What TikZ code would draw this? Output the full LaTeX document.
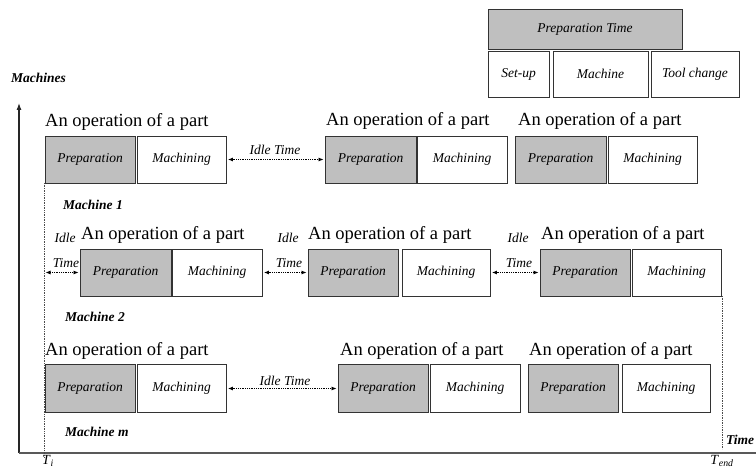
\documentclass[tikz,border=0pt]{standalone}
\usepackage{fontspec}
\setmainfont{Liberation Serif}
\usetikzlibrary{arrows.meta}
\begin{document}
\begin{tikzpicture}[x=1pt,y=-1pt,
  box/.style={draw=black!80, line width=0.9pt, minimum width=90pt, minimum height=47pt, inner sep=0pt, font=\fontsize{13.5}{15}\selectfont\itshape},
  prepbox/.style={box, fill=black!25},
  machbox/.style={box, fill=white},
  oplabel/.style={anchor=west, inner sep=0pt, font=\fontsize{18.5}{20}\selectfont},
  idlelabel/.style={inner sep=0pt, font=\fontsize{13.5}{15}\selectfont\itshape},
  mlabel/.style={anchor=west, inner sep=0pt, font=\fontsize{13.5}{15}\selectfont\bfseries\itshape},
  idle/.style={densely dotted, line width=0.8pt, {Latex[length=5pt,width=4pt]}-{Latex[length=5pt,width=4pt]}, shorten <=1.5pt, shorten >=1pt},
  guide/.style={densely dotted, line width=0.7pt, black!70},
  axis/.style={line width=1.1pt, black!85},
]
\useasboundingbox (0,0) rectangle (756,470);

% legend
\node[prepbox, minimum width=194pt, minimum height=40pt] (lpt) at (585,29) {Preparation Time};
\node[machbox, minimum width=61pt, minimum height=46pt] (lsu) at (518.5,74) {Set-up};
\node[machbox, minimum width=95pt, minimum height=46pt] (lma) at (600.5,74) {Machine};
\node[machbox, minimum width=88pt, minimum height=46pt] (ltc) at (695,74) {Tool change};

% axes
\coordinate (origin) at (19,453);
\coordinate (ytop) at (19,103);
\coordinate (xend) at (760,453);
\draw[axis, -{Latex[length=7pt,width=5pt]}] (origin) -- (ytop);
\draw[line width=1.8pt, black!65] (origin) -- (xend);
\node[mlabel] (ylab) at (11,78) {Machines};
\node[mlabel] (xlab) at (726,440) {Time};
\node[inner sep=0pt, font=\fontsize{14}{15}\selectfont] (ti) at (48,461) {\textit{T}\textsubscript{\textit{i}}};
\node[inner sep=0pt, font=\fontsize{14}{15}\selectfont] (tend) at (722,461) {\textit{T}\textsubscript{\textit{end}}};

% guides
\coordinate (g1t) at (44,183);
\coordinate (g1b) at (44,458);
\coordinate (g2) at (44,272.5);
\coordinate (g3t) at (722,296);
\coordinate (g3b) at (722,449);
\draw[guide] (g1t) -- (g1b);
\draw[guide] (g3t) -- (g3b);

% Machine 1
\node[prepbox] (p11) at (90,159.5) {Preparation};
\node[machbox, minimum width=89pt] (m11) at (181.5,159.5) {Machining};
\node[prepbox, minimum width=91pt] (p12) at (370.5,159.5) {Preparation};
\node[machbox] (m12) at (462,159.5) {Machining};
\node[prepbox, minimum width=91pt] (p13) at (560.5,159.5) {Preparation};
\node[machbox, minimum width=89pt] (m13) at (652.5,159.5) {Machining};
\node[oplabel] (o11) at (45,122) {An operation of a part};
\node[oplabel] (o12) at (326,121) {An operation of a part};
\node[oplabel] (o13) at (518,121) {An operation of a part};
\draw[idle] (m11) -- (p12);
\node[idlelabel] (i11) at (275,150) {Idle Time};
\node[mlabel] (ml1) at (63,205) {Machine 1};

% Machine 2
\node[prepbox, minimum width=91pt] (p21) at (125.5,272.5) {Preparation};
\node[machbox] (m21) at (217,272.5) {Machining};
\node[prepbox] (p22) at (353,272.5) {Preparation};
\node[machbox, minimum width=88pt] (m22) at (446,272.5) {Machining};
\node[prepbox] (p23) at (585,272.5) {Preparation};
\node[machbox, minimum width=89pt] (m23) at (676.5,272.5) {Machining};
\node[oplabel] (o21) at (81,235) {An operation of a part};
\node[oplabel] (o22) at (308,235) {An operation of a part};
\node[oplabel] (o23) at (541,235) {An operation of a part};
\draw[idle] (g2) -- (p21);
\draw[idle] (m21) -- (p22);
\draw[idle] (m22) -- (p23);
\node[idlelabel] (i21a) at (65,238) {Idle};
\node[idlelabel] (i21b) at (66,263) {Time};
\node[idlelabel] (i22a) at (288,238) {Idle};
\node[idlelabel] (i22b) at (289,263) {Time};
\node[idlelabel] (i23a) at (518,238) {Idle};
\node[idlelabel] (i23b) at (519,263) {Time};
\node[mlabel] (ml2) at (65,317) {Machine 2};

% Machine m
\node[prepbox, minimum height=48pt] (p31) at (90,388.5) {Preparation};
\node[machbox, minimum width=89pt, minimum height=48pt] (m31) at (181.5,388.5) {Machining};
\node[prepbox, minimum height=48pt] (p32) at (383,388.5) {Preparation};
\node[machbox, minimum height=48pt] (m32) at (475,388.5) {Machining};
\node[prepbox, minimum height=48pt] (p33) at (573,388.5) {Preparation};
\node[machbox, minimum width=88pt, minimum height=48pt] (m33) at (666,388.5) {Machining};
\node[oplabel] (o31) at (45,351) {An operation of a part};
\node[oplabel] (o32) at (340,351) {An operation of a part};
\node[oplabel] (o33) at (529,351) {An operation of a part};
\draw[idle] (m31) -- (p32);
\node[idlelabel] (i31) at (285,381) {Idle Time};
\node[mlabel] (ml3) at (65,432) {Machine m};
\end{tikzpicture}
\end{document}
